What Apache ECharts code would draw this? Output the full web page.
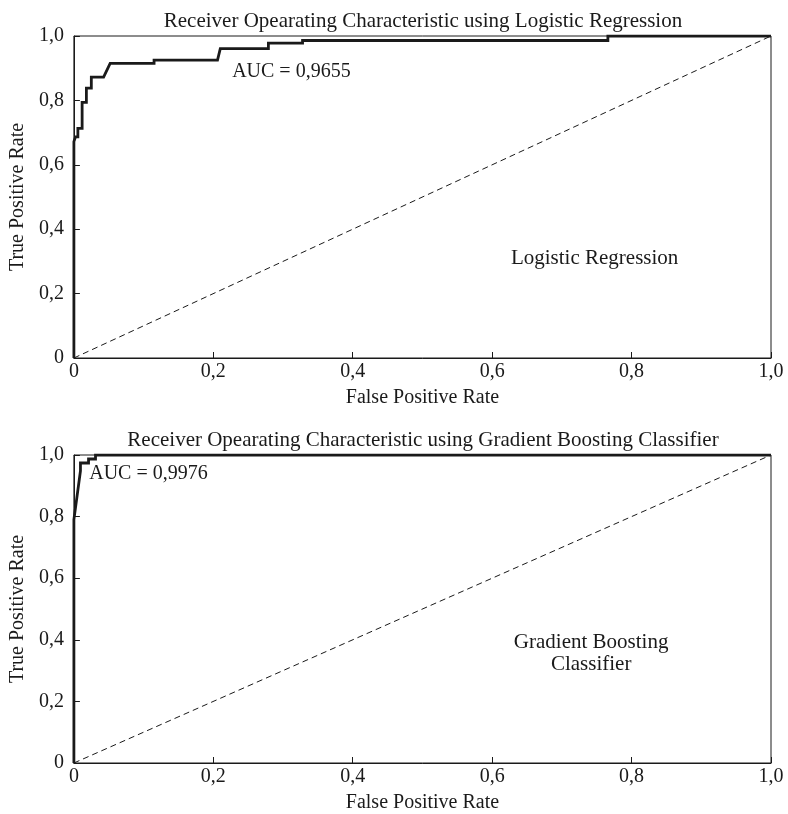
<!DOCTYPE html>
<html><head><meta charset="utf-8">
<script src="https://cdn.jsdelivr.net/npm/echarts@6/dist/echarts.min.js"></script>
<style>html,body{margin:0;padding:0;background:#fff}#chart{width:788px;height:814px}</style>
</head><body><div id="chart"></div>
<script>
// ROC points, logistic regression
const lrFpr = [0, 0, 0.0023, 0.0023, 0.0057, 0.0057, 0.0118, 0.0118, 0.0179, 0.0179, 0.025, 0.025, 0.0426, 0.052, 0.115, 0.115, 0.206, 0.21, 0.279, 0.279, 0.328, 0.328, 0.766, 0.766, 1.0];
const lrTpr = [0, 0.672, 0.672, 0.687, 0.687, 0.713, 0.713, 0.794, 0.794, 0.838, 0.838, 0.872, 0.872, 0.915, 0.915, 0.925, 0.925, 0.961, 0.961, 0.978, 0.978, 0.986, 0.986, 1.0, 1.0];
// ROC points, gradient boosting
const gbFpr = [0, 0, 0.0094, 0.0094, 0.021, 0.021, 0.031, 0.031, 1.0];
const gbTpr = [0, 0.79, 0.948, 0.974, 0.974, 0.987, 0.987, 1.0, 1.0];
// chance line
const chanceX = [0, 1];
const chanceY = [0, 1];
const tickValues = [0, 0.2, 0.4, 0.6, 0.8, 1.0];
const titles = ['Receiver Opearating Characteristic using Logistic Regression',
                'Receiver Opearating Characteristic using Gradient Boosting Classifier'];
const aucTexts = ['AUC = 0,9655', 'AUC = 0,9976'];
const modelNames = ['Logistic Regression', 'Gradient Boosting\nClassifier'];

const FONT = 'Liberation Serif';
const INK = '#1a1a1a';
const fmt = v => v === 0 ? '0' : v.toFixed(1).replace('.', ',');
const zip = (a, b) => a.map((v, i) => [v, b[i]]);

const grids = [
  {left: 66, top: 36, width: 705, height: 322},
  {left: 66, top: 455, width: 705, height: 322}
];

function axis(idx, isX) {
  return {
    type: 'value', gridIndex: idx, min: 0, max: 1, interval: 0.2,
    name: isX ? 'False Positive Rate' : 'True Positive Rate',
    nameLocation: 'middle', nameGap: isX ? 30 : 44,
    nameTextStyle: {fontFamily: FONT, fontSize: 20, color: INK},
    axisLine: {show: true, lineStyle: {color: INK, width: 1}},
    axisTick: {show: true, inside: true, length: 6, lineStyle: {color: INK}},
    axisLabel: {fontFamily: FONT, fontSize: 20, color: INK, margin: isX ? 4 : 10, formatter: fmt},
    splitLine: {show: false}
  };
}

const curves = [zip(lrFpr, lrTpr), zip(gbFpr, gbTpr)];
const aucPos = [[0.227, 0.888], [0.022, 0.94]];
const namePos = [[0.747, 0.31], [0.742, 0.356]];

const series = [];
[0, 1].forEach(i => {
  series.push({
    type: 'line', xAxisIndex: i, yAxisIndex: i, data: zip(chanceX, chanceY),
    showSymbol: false, silent: true,
    lineStyle: {color: INK, width: 1, type: [6, 4]}
  });
  series.push({
    type: 'line', xAxisIndex: i, yAxisIndex: i, data: curves[i],
    showSymbol: false, silent: true,
    lineStyle: {color: INK, width: 2.8, join: 'miter'}
  });
  series.push({
    type: 'scatter', xAxisIndex: i, yAxisIndex: i, symbolSize: 0, silent: true,
    itemStyle: {opacity: 1},
    data: [aucPos[i]],
    label: {show: true, position: 'right', distance: 0, formatter: aucTexts[i],
            fontFamily: FONT, fontSize: 20, color: INK}
  });
  series.push({
    type: 'scatter', xAxisIndex: i, yAxisIndex: i, symbolSize: 0, silent: true,
    itemStyle: {opacity: 1},
    data: [namePos[i]],
    label: {show: true, position: 'inside', formatter: modelNames[i], align: 'center',
            lineHeight: 22, fontFamily: FONT, fontSize: 21, color: INK}
  });
});

const titleStyle = {fontFamily: FONT, fontSize: 21, fontWeight: 'normal', color: INK};
const chart = echarts.init(document.getElementById('chart'));
chart.setOption({
  animation: false,
  backgroundColor: '#fff',
  title: [
    {text: titles[0], left: 418, textAlign: 'center', top: 6, textStyle: titleStyle},
    {text: titles[1], left: 418, textAlign: 'center', top: 425, textStyle: titleStyle}
  ],
  grid: grids.map(g => Object.assign({show: true, borderColor: INK, borderWidth: 1, backgroundColor: 'transparent'}, g)),
  xAxis: [axis(0, true), axis(1, true)],
  yAxis: [axis(0, false), axis(1, false)],
  series: series
});
</script>
</body></html>
